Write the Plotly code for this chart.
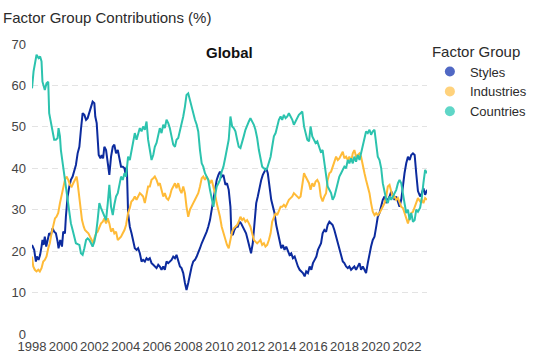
import plotly.graph_objects as go
from datetime import datetime

# ---------------- data (decimal years, % contribution) ----------------
styles_year = [1998.00,1998.08,1998.14,1998.25,1998.31,1998.42,1998.52,1998.61,1998.67,1998.74,1998.82,1998.91,
               1999.00,1999.10,1999.21,1999.32,1999.42,1999.53,1999.64,1999.70,1999.81,1999.92,
               2000.00,2000.11,2000.17,2000.28,2000.39,2000.49,2000.60,2000.71,2000.81,2000.92,
               2001.03,2001.13,2001.24,2001.35,2001.46,2001.56,2001.67,2001.78,2001.88,2001.99,
               2002.05,2002.14,2002.20,2002.27,2002.38,2002.46,2002.55,2002.63,2002.74,2002.85,2002.95,
               2003.06,2003.17,2003.27,2003.38,2003.49,2003.60,2003.70,2003.81,2003.92,2003.98,
               2004.07,2004.15,2004.26,2004.37,2004.47,2004.58,2004.69,2004.79,2004.90,
               2005.01,2005.11,2005.22,2005.33,2005.43,2005.54,2005.65,2005.76,2005.86,2005.97,
               2006.08,2006.18,2006.29,2006.40,2006.50,2006.61,2006.72,2006.82,2006.93,
               2007.04,2007.15,2007.25,2007.36,2007.47,2007.57,2007.68,2007.79,2007.89,
               2008.00,2008.11,2008.22,2008.32,2008.43,2008.54,2008.64,2008.75,2008.86,2008.96,
               2009.07,2009.18,2009.28,2009.39,2009.50,2009.61,2009.71,2009.82,2009.93,
               2010.03,2010.14,2010.25,2010.38,2010.48,2010.59,2010.70,2010.76,2010.85,2010.95,
               2011.06,2011.17,2011.28,2011.38,2011.49,2011.60,2011.70,2011.81,2011.92,
               2012.02,2012.13,2012.24,2012.35,2012.45,2012.56,2012.67,2012.77,2012.88,2012.99,
               2013.09,2013.20,2013.31,2013.42,2013.52,2013.63,2013.74,2013.84,2013.95,
               2014.06,2014.16,2014.27,2014.38,2014.48,2014.59,2014.70,2014.81,2014.91,
               2015.02,2015.13,2015.23,2015.34,2015.45,2015.55,2015.66,2015.77,2015.88,2015.98,
               2016.09,2016.20,2016.30,2016.41,2016.50,2016.60,2016.71,2016.82,2016.92,
               2017.03,2017.14,2017.24,2017.35,2017.46,2017.57,2017.67,2017.78,2017.89,2017.99,
               2018.10,2018.21,2018.31,2018.42,2018.53,2018.63,2018.74,2018.85,2018.96,
               2019.06,2019.17,2019.28,2019.38,2019.49,2019.60,2019.70,2019.81,2019.92,
               2020.03,2020.13,2020.24,2020.35,2020.45,2020.56,2020.67,2020.77,2020.88,2020.99,
               2021.10,2021.20,2021.31,2021.42,2021.52,2021.63,2021.74,2021.84,2021.95,
               2022.06,2022.17,2022.27,2022.38,2022.49,2022.59,2022.70,2022.84,2022.95,
               2023.05,2023.16,2023.28]
styles_val = [21.5,20.7,20.3,17.5,18.7,17.9,19.1,21.1,22.7,21.5,23.5,21.1,
              22.7,24.3,23.9,25.5,24.7,24.3,22.3,20.7,22.7,21.1,
              24.7,24.3,28.3,33.2,35.6,37.2,38.0,39.2,40.8,43.6,
              45.2,49.3,53.3,52.9,51.7,52.1,53.7,54.9,56.1,55.7,
              52.5,50.9,46.9,43.2,42.4,43.2,42.4,45.2,44.4,41.2,38.4,
              42.8,45.2,45.7,43.6,44.4,42.4,40.4,40.4,40.0,38.8,
              40.4,29.2,25.9,24.3,22.7,20.7,20.3,20.7,19.5,
              17.5,17.9,17.5,18.3,17.9,18.3,17.1,16.7,16.3,15.9,
              16.7,16.3,15.5,16.3,15.5,17.5,17.1,17.5,17.9,
              18.7,18.3,19.1,17.9,16.3,15.9,14.7,12.3,10.6,
              12.3,14.7,16.3,17.5,17.9,18.7,19.5,20.7,21.9,22.7,
              23.5,24.7,25.9,27.5,30.0,32.4,35.6,37.2,38.4,
              39.2,38.0,38.4,36.0,36.4,34.8,30.7,24.3,23.9,25.1,
              25.9,25.9,27.1,26.7,25.9,25.1,24.3,22.7,21.1,
              19.5,21.9,25.9,31.6,33.2,35.6,37.2,38.4,39.2,40.0,
              38.8,35.6,32.4,30.7,29.2,26.3,24.3,22.7,20.7,
              21.5,20.3,21.1,19.9,19.1,19.5,18.3,18.7,17.5,
              16.3,15.5,15.1,14.7,13.9,15.1,14.7,16.3,15.5,17.1,
              17.9,18.7,20.3,21.1,21.9,24.3,25.1,24.7,26.3,
              27.1,26.7,26.3,25.1,23.5,22.3,20.3,18.7,17.5,17.1,
              16.3,15.9,16.3,15.5,15.9,16.3,15.5,16.3,17.1,
              15.5,16.3,15.5,14.7,17.1,19.5,21.1,22.7,23.5,
              25.9,28.3,29.2,30.7,32.4,33.2,31.6,32.4,33.2,34.4,
              33.2,32.4,33.2,31.6,30.7,32.4,36.4,38.8,41.2,
              42.8,42.0,43.2,43.6,43.2,38.8,34.5,33.2,34.0,
              35.2,33.6,34.8]

industries_year = [1998.00,1998.08,1998.18,1998.29,1998.40,1998.50,1998.61,1998.72,1998.82,1998.93,
                   1999.04,1999.14,1999.25,1999.36,1999.47,1999.57,1999.68,1999.79,1999.89,
                   2000.00,2000.11,2000.21,2000.32,2000.43,2000.54,2000.64,2000.75,2000.86,2000.92,
                   2001.03,2001.13,2001.20,2001.31,2001.39,2001.50,2001.61,2001.71,2001.82,2001.93,2001.99,
                   2002.10,2002.20,2002.31,2002.42,2002.53,2002.63,2002.74,2002.85,2002.95,
                   2003.06,2003.17,2003.27,2003.38,2003.49,2003.60,2003.70,2003.81,2003.92,
                   2004.02,2004.15,2004.26,2004.36,2004.47,2004.58,2004.69,2004.79,2004.90,
                   2005.01,2005.11,2005.22,2005.33,2005.43,2005.54,2005.65,2005.76,2005.86,2005.97,
                   2006.08,2006.18,2006.29,2006.40,2006.50,2006.61,2006.72,2006.82,2006.93,
                   2007.04,2007.15,2007.25,2007.36,2007.47,2007.57,2007.68,2007.79,2007.89,
                   2008.00,2008.11,2008.22,2008.32,2008.43,2008.54,2008.64,2008.75,2008.86,2008.96,
                   2009.07,2009.18,2009.28,2009.39,2009.50,2009.61,2009.71,2009.82,2009.93,
                   2010.03,2010.14,2010.25,2010.38,2010.48,2010.59,2010.70,2010.81,2010.91,
                   2011.02,2011.13,2011.23,2011.34,2011.45,2011.55,2011.66,2011.77,2011.88,2011.98,
                   2012.09,2012.20,2012.30,2012.41,2012.52,2012.62,2012.73,2012.84,2012.94,
                   2013.05,2013.16,2013.27,2013.37,2013.48,2013.59,2013.69,2013.80,2013.91,
                   2014.01,2014.12,2014.23,2014.34,2014.44,2014.55,2014.66,2014.76,2014.87,2014.98,
                   2015.08,2015.19,2015.30,2015.41,2015.51,2015.62,2015.73,2015.83,2015.94,
                   2016.05,2016.15,2016.26,2016.37,2016.48,2016.60,2016.71,2016.82,2016.92,
                   2017.03,2017.14,2017.24,2017.35,2017.46,2017.57,2017.67,2017.78,2017.89,2017.99,
                   2018.10,2018.21,2018.31,2018.42,2018.53,2018.63,2018.74,2018.85,2018.96,
                   2019.06,2019.17,2019.28,2019.38,2019.49,2019.60,2019.70,2019.81,2019.92,
                   2020.03,2020.13,2020.24,2020.35,2020.45,2020.56,2020.67,2020.77,2020.88,2020.99,
                   2021.10,2021.20,2021.31,2021.42,2021.52,2021.63,2021.74,2021.84,2021.95,
                   2022.06,2022.17,2022.27,2022.38,2022.49,2022.59,2022.70,2022.84,2022.95,
                   2023.05,2023.16,2023.28]
industries_val = [18.7,16.3,15.5,15.1,15.5,15.1,15.9,17.5,17.9,18.7,
                  20.7,21.9,24.3,26.3,27.9,28.3,29.2,31.6,33.2,
                  35.6,37.2,38.0,37.2,36.0,35.6,36.4,37.2,38.0,36.4,
                  33.2,30.7,27.5,25.9,25.1,24.7,24.3,23.5,22.7,21.9,23.1,
                  24.3,24.7,25.9,26.7,27.1,27.9,26.7,27.9,26.7,
                  24.7,25.5,24.3,24.7,22.7,23.1,23.5,24.3,25.1,
                  26.3,29.2,30.4,32.0,32.4,33.2,32.4,33.2,34.0,
                  33.6,33.2,31.6,34.0,35.6,35.6,37.2,37.6,38.0,37.2,
                  36.0,36.4,34.8,33.2,34.0,32.8,32.4,33.2,34.8,
                  35.6,36.4,35.2,36.4,34.8,34.0,35.6,34.0,30.7,
                  28.3,30.0,30.7,31.6,32.4,33.2,34.0,35.6,37.6,38.0,
                  37.2,38.0,37.2,36.4,37.2,35.6,34.0,31.6,30.0,
                  28.3,25.9,24.3,22.7,21.5,20.7,22.7,24.7,25.5,
                  25.9,26.3,27.1,28.3,27.5,27.9,27.1,27.5,26.7,25.9,
                  24.3,22.7,22.3,21.9,22.3,22.7,21.5,21.9,21.1,
                  21.5,22.7,24.3,27.1,28.3,29.2,28.7,30.0,30.7,
                  30.7,31.2,30.7,31.6,32.4,32.8,33.2,34.0,33.6,33.2,
                  32.8,33.2,35.6,38.8,38.0,37.2,36.4,34.8,36.4,
                  35.6,36.8,37.2,36.4,33.2,32.0,33.2,34.0,37.2,
                  38.8,39.2,40.4,42.0,42.8,42.0,42.4,43.2,44.0,42.4,
                  42.8,42.0,42.8,41.6,43.6,44.4,42.8,43.2,43.6,
                  42.8,40.4,38.8,37.2,35.6,34.0,31.6,29.5,28.7,
                  29.2,28.7,29.2,30.0,30.7,31.6,33.2,35.6,36.0,34.0,
                  32.8,33.2,32.4,32.8,31.6,30.7,30.4,29.2,28.3,
                  26.7,28.3,29.2,29.5,30.7,31.6,32.8,32.0,32.4,
                  31.6,32.8,32.4]

countries_year = [1998.00,1998.10,1998.29,1998.42,1998.52,1998.61,1998.67,1998.82,1998.93,
                  1999.04,1999.10,1999.21,1999.32,1999.42,1999.53,1999.64,1999.70,1999.79,1999.85,1999.96,
                  2000.06,2000.17,2000.28,2000.39,2000.49,2000.60,2000.71,2000.81,2000.92,
                  2001.03,2001.13,2001.24,2001.35,2001.46,2001.56,2001.67,2001.78,2001.88,2001.99,
                  2002.10,2002.20,2002.31,2002.42,2002.53,2002.63,2002.74,2002.85,2002.95,
                  2003.06,2003.17,2003.27,2003.38,2003.49,2003.60,2003.70,2003.81,2003.92,
                  2004.02,2004.15,2004.26,2004.36,2004.47,2004.58,2004.69,2004.79,2004.90,
                  2005.01,2005.11,2005.22,2005.33,2005.43,2005.54,2005.65,2005.76,2005.86,2005.97,
                  2006.08,2006.18,2006.29,2006.40,2006.50,2006.61,2006.72,2006.82,2006.93,
                  2007.04,2007.15,2007.25,2007.36,2007.47,2007.57,2007.68,2007.79,2007.89,
                  2008.00,2008.11,2008.22,2008.32,2008.43,2008.54,2008.64,2008.75,2008.86,2008.96,
                  2009.07,2009.18,2009.28,2009.39,2009.50,2009.61,2009.71,2009.82,2009.93,
                  2010.03,2010.14,2010.25,2010.38,2010.48,2010.59,2010.70,2010.81,2010.91,
                  2011.02,2011.13,2011.23,2011.34,2011.45,2011.55,2011.66,2011.77,2011.88,2011.98,
                  2012.09,2012.20,2012.30,2012.41,2012.52,2012.62,2012.73,2012.84,2012.94,
                  2013.05,2013.16,2013.27,2013.37,2013.48,2013.59,2013.69,2013.80,2013.91,
                  2014.01,2014.12,2014.23,2014.34,2014.44,2014.55,2014.66,2014.76,2014.87,2014.98,
                  2015.08,2015.19,2015.30,2015.41,2015.51,2015.62,2015.73,2015.83,2015.94,
                  2016.05,2016.15,2016.26,2016.37,2016.48,2016.60,2016.71,2016.82,2016.92,
                  2017.03,2017.14,2017.24,2017.35,2017.46,2017.57,2017.67,2017.78,2017.89,2017.99,
                  2018.10,2018.21,2018.31,2018.42,2018.53,2018.63,2018.74,2018.85,2018.96,
                  2019.06,2019.17,2019.28,2019.38,2019.49,2019.60,2019.70,2019.81,2019.92,
                  2020.03,2020.13,2020.24,2020.35,2020.45,2020.56,2020.67,2020.77,2020.88,2020.99,
                  2021.10,2021.20,2021.31,2021.42,2021.52,2021.63,2021.74,2021.84,2021.95,
                  2022.06,2022.17,2022.27,2022.38,2022.49,2022.59,2022.70,2022.84,2022.95,
                  2023.05,2023.16,2023.28]
countries_val = [59.3,63.4,67.4,66.6,67.0,65.8,60.9,58.9,60.5,
                 60.9,53.3,51.3,48.5,46.9,46.9,47.3,49.7,47.7,44.4,41.2,
                 38.0,35.6,32.4,29.2,26.7,25.1,23.1,21.9,21.7,
                 21.5,19.5,19.1,20.7,22.7,23.1,22.7,21.9,21.1,22.3,
                 24.3,27.5,31.6,30.4,29.5,28.3,27.5,31.6,36.0,
                 30.7,28.7,31.2,33.2,34.0,36.4,38.0,37.2,38.8,
                 38.0,42.8,42.0,44.4,46.9,48.5,46.9,48.1,49.7,
                 48.9,50.1,49.3,51.3,46.9,44.4,42.0,43.2,45.2,46.1,
                 47.7,49.7,48.5,50.5,49.7,51.7,50.9,49.7,47.7,
                 45.7,45.2,46.9,47.3,48.9,50.9,52.5,54.9,57.7,
                 58.1,56.5,54.5,52.9,51.7,50.5,48.9,44.4,41.2,40.4,
                 38.8,38.0,37.2,34.8,32.4,30.7,33.2,35.6,36.4,
                 37.2,39.2,40.4,42.8,45.2,46.9,52.5,50.1,49.7,
                 48.9,46.9,45.2,44.9,46.1,47.7,49.3,50.5,51.3,52.1,
                 51.3,50.5,49.3,47.3,44.4,42.0,40.4,40.0,39.6,
                 40.0,41.2,42.8,45.2,47.7,48.5,50.1,51.7,52.5,
                 51.7,52.9,52.1,52.5,53.3,52.5,51.7,50.5,51.3,52.1,
                 52.9,53.3,53.7,50.1,48.5,46.9,46.5,50.1,47.7,
                 46.9,46.1,46.5,45.2,44.0,44.4,41.2,38.8,35.6,
                 34.8,34.0,32.4,33.2,34.8,36.4,38.0,38.8,39.6,40.4,
                 40.0,42.0,41.2,42.4,41.2,42.8,41.6,43.2,42.0,
                 43.6,45.2,46.9,48.9,48.5,49.3,48.1,48.9,49.3,
                 46.1,42.8,42.0,40.0,36.4,34.0,32.4,31.6,33.2,32.4,
                 33.2,34.0,34.8,36.4,37.2,36.4,33.2,31.6,29.2,
                 30.0,27.5,29.2,27.1,27.5,30.0,29.5,30.5,33.0,
                 36.4,39.6,38.8]

series_names = ["Styles", "Industries", "Countries"]
line_colors = ["#0c2b9e", "#ffbb38", "#2cc3ae"]
legend_colors = ["#5068c4", "#ffd27c", "#5fd6c7"]


def to_date(y):
    yr = int(y)
    start = datetime(yr, 1, 1)
    end = datetime(yr + 1, 1, 1)
    return start + (end - start) * (y - yr)


series = [(styles_year, styles_val), (industries_year, industries_val), (countries_year, countries_val)]

FONT = "Liberation Sans, Arial, sans-serif"
fig = go.Figure()
for (yrs, vals), name, col in zip(series, series_names, line_colors):
    fig.add_trace(go.Scatter(x=[to_date(v) for v in yrs], y=vals, mode="lines", name=name,
                             line=dict(color=col, width=2), showlegend=False))
for name, col in zip(series_names, legend_colors):
    fig.add_trace(go.Scatter(x=[None], y=[None], mode="markers", name=name,
                             marker=dict(color=col, size=10), showlegend=True))

fig.update_layout(
    width=538, height=363,
    margin=dict(l=32, r=111, t=44, b=29, autoexpand=False),
    paper_bgcolor="white", plot_bgcolor="white",
    font=dict(family=FONT, size=13, color="#333333"),
    title=dict(text="Factor Group Contributions (%)", x=0.0, xanchor="left", xref="container",
               y=1 - 18 / 363, yanchor="middle", yref="container",
               pad=dict(l=3, r=0, t=0, b=0),
               font=dict(family=FONT, size=15, color="#2b2b2b")),
    legend=dict(title=dict(text="Factor Group", font=dict(family=FONT, size=15, color="#2b2b2b")),
                font=dict(family=FONT, size=13, color="#2b2b2b"),
                x=1.0073, xanchor="left", y=1.024, yanchor="top", bgcolor="rgba(0,0,0,0)"),
    showlegend=True,
    annotations=[dict(text="<b>Global</b>", x=0.5, xref="paper", y=0.972, yref="paper",
                      xanchor="center", yanchor="middle", showarrow=False,
                      font=dict(family=FONT, size=15, color="#111111"))],
)
fig.update_xaxes(type="date", tickformat="%Y", dtick="M24", tick0="1998-01-01", tickangle=0,
                 showgrid=False, zeroline=False, showline=False, ticks="", automargin=False,
                 ticklabelstandoff=3,
                 tickfont=dict(family=FONT, size=13, color="#444444"))
fig.update_yaxes(range=[0, 70], dtick=10, showgrid=True, gridcolor="#e3e3e3", griddash="6px,4px",
                 gridwidth=1, zeroline=False, showline=False, ticks="", automargin=False,
                 ticklabelstandoff=5,
                 tickfont=dict(family=FONT, size=13, color="#444444"))

fig.write_html("out.html", config={"displayModeBar": False},
               post_script="document.body.style.margin='0';")
